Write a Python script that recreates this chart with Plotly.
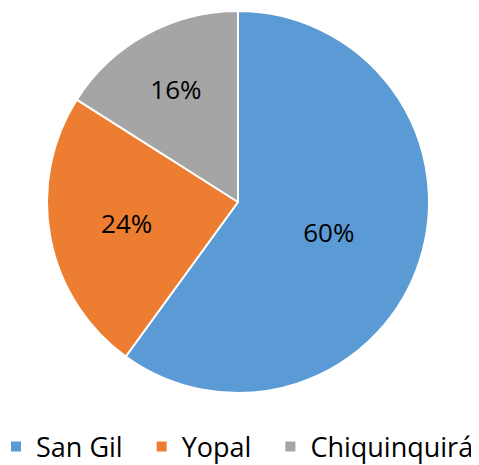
import plotly.graph_objects as go

labels = ["San Gil", "Yopal", "Chiquinquirá"]
values = [60, 24, 16]
colors = ["#5B9BD5", "#ED7D31", "#A5A5A5"]

# legend spacing (non-breaking spaces appended to legend entries only)
legend_pad = ["\u00a0\u00a0", "\u00a0\u00a0", ""]

W, H = 479, 465
B = 60                      # bottom margin holding the legend
PH = H - B                  # plot-area height
cx, cy, r = 230, 194, 191   # pie centre / radius in pixels

fig = go.Figure(go.Pie(
    labels=[l + p for l, p in zip(labels, legend_pad)],
    values=values,
    sort=False,
    direction="clockwise",
    rotation=0,
    marker=dict(colors=colors, line=dict(color="white", width=2)),
    textinfo="percent",
    texttemplate="%{percent:.0%}",
    textposition="inside",
    insidetextorientation="horizontal",
    textfont=dict(family="Open Sans", size=26, color="black"),
    hovertemplate="%{customdata}: %{percent:.0%}<extra></extra>",
    customdata=labels,
    domain=dict(x=[(cx - r) / W, (cx + r) / W],
                y=[1 - (cy + r) / PH, 1 - (cy - r) / PH]),
))

fig.update_layout(
    width=W, height=H,
    margin=dict(l=0, r=0, t=0, b=B, autoexpand=False),
    paper_bgcolor="white",
    plot_bgcolor="white",
    font=dict(family="Open Sans", color="black"),
    showlegend=True,
    legend=dict(
        orientation="h",
        x=-12 / W, xanchor="left",
        y=(PH - 439) / PH, yanchor="middle",
        font=dict(family="Open Sans", size=27, color="black"),
        itemclick=False,
    ),
)

fig.write_html("out.html")
